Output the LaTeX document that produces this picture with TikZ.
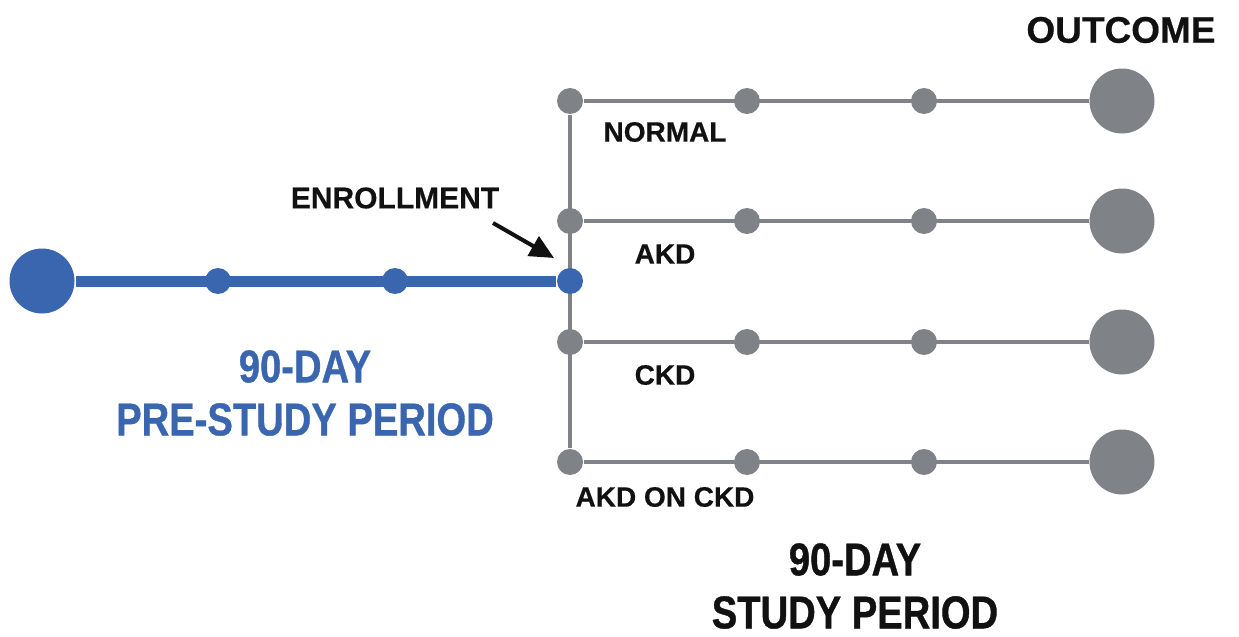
\documentclass[tikz,border=0pt]{standalone}
\usepackage{fontspec}
\setmainfont{Liberation Sans}
\newfontfamily\narrowfont{Liberation Sans Bold}[FakeStretch=0.83, FakeBold=0.8]
\newfontfamily\labelfont{Liberation Sans Bold}[FakeBold=0.5]
\usetikzlibrary{arrows.meta,backgrounds}

\definecolor{studyblue}{RGB}{58,102,176}
\definecolor{studygray}{RGB}{127,131,135}
\definecolor{textblack}{RGB}{17,17,17}

\tikzset{
every picture/.style={
line width=1pt
}}

\begin{document}
\begin{tikzpicture}[x=0.5pt, y=-0.5pt,
dot/.style = {circle, fill=#1, inner sep=0pt, minimum size=13pt},
bigdot/.style = {circle, fill=#1, inner sep=0pt, minimum size=32.5pt},
label/.style = {text=textblack, font=\labelfont\fontsize{14}{16}\selectfont},
period/.style = {align=center, font=\narrowfont\fontsize{23}{26.5}\selectfont}]

\useasboundingbox (0,0) rectangle (1239,637);

% pre-study line: 42, 218, 395, 570
\node [bigdot=studyblue] (start) at (42,281) {};
\node [dot=studyblue] (pre1) at (218,281) {};
\node [dot=studyblue] (pre2) at (395,281) {};
\node [dot=studyblue] (enroll) at (570,281) {};

% study rows: 101, 221, 342, 462
\foreach \y/\n in {101/1, 221/2, 342/3, 462/4} {
\node [dot=studygray] (r\n0) at (570,\y) {};
\node [dot=studygray] (r\n1) at (747,\y) {};
\node [dot=studygray] (r\n2) at (924,\y) {};
\node [bigdot=studygray] (out\n) at (1122,\y) {};
}

\begin{scope}[on background layer]
\draw [studygray, line width=2.3pt] (r10) -- (r40);
\foreach \n in {1,...,4}
\draw [studygray, line width=2.2pt] (r\n0) -- (out\n);
\draw [studyblue, line width=5.5pt] (start) -- (enroll);
\end{scope}

\node [label] (normal) at (665,132) {NORMAL};
\node [label] (akd) at (665,254) {AKD};
\node [label] (ckd) at (665,375) {CKD};
\node [label] (akdckd) at (665,497) {AKD ON CKD};

\node [label, font=\labelfont\fontsize{15}{17}\selectfont] (enrolltext) at (395,198) {ENROLLMENT};
\node [label, font=\labelfont\fontsize{18.5}{20}\selectfont] (outcome) at (1121,30) {OUTCOME};

\coordinate (arrowtail) at (493,223);
\coordinate (arrowtip) at (554,258);
\draw [textblack, line width=2pt, -{Triangle[length=12pt, width=11pt]}] (arrowtail) -- (arrowtip);

\node [period, text=studyblue] (pre) at (305,393) {90-DAY\\PRE-STUDY PERIOD};
\node [period, text=textblack] (study) at (855,586) {90-DAY\\STUDY PERIOD};

\end{tikzpicture}
\end{document}
